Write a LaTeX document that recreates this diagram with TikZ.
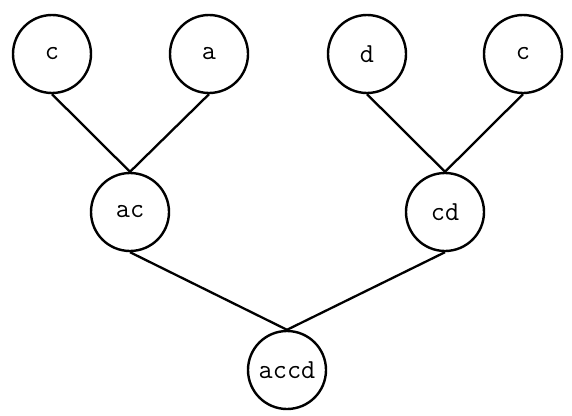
\documentclass[tikz,border=0pt]{standalone}
\usepackage{fontspec}
\begin{document}
\begin{tikzpicture}[x=1pt,y=-1pt,
  tn/.style={circle,draw,line width=2.4pt,minimum size=78pt,inner sep=0pt,font=\fontsize{27.5}{32}\selectfont\ttfamily},
  ed/.style={line width=2.3pt}]
\useasboundingbox (0,0) rectangle (572,415);
\node[tn] (c1) at (52,54) {c};
\node[tn] (a) at (209,54) {a};
\node[tn] (d) at (367,54) {d};
\node[tn] (c2) at (523,54) {c};
\node[tn] (ac) at (130,212) {ac};
\node[tn] (cd) at (445,212) {cd};
\node[tn] (accd) at (287,370) {accd};
\draw[ed] (c1.south) -- (ac.north);
\draw[ed] (a.south) -- (ac.north);
\draw[ed] (d.south) -- (cd.north);
\draw[ed] (c2.south) -- (cd.north);
\draw[ed] (ac.south) -- (accd.north);
\draw[ed] (cd.south) -- (accd.north);
\end{tikzpicture}
\end{document}
